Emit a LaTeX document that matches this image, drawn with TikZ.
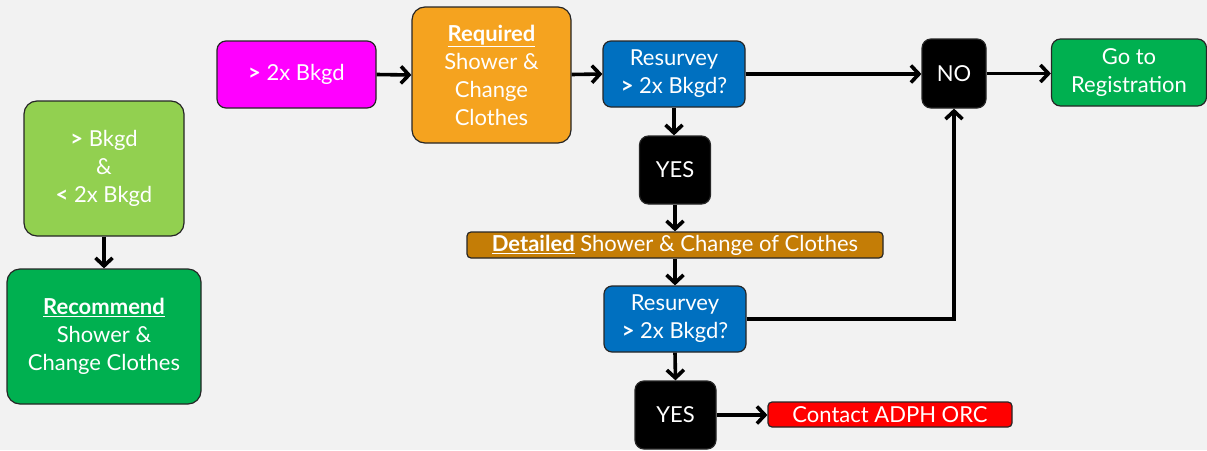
\documentclass[tikz,border=0pt]{standalone}
\usepackage{fontspec}
\setmainfont{Lato}
\usetikzlibrary{arrows.meta}
\definecolor{bg}{HTML}{F2F2F2}
\definecolor{lgreen}{HTML}{92D050}
\definecolor{dgreen}{HTML}{00B050}
\definecolor{magent}{HTML}{FF00FF}
\definecolor{orng}{HTML}{F5A31F}
\definecolor{blu}{HTML}{0070C0}
\definecolor{brwn}{HTML}{C47D06}
\definecolor{redc}{HTML}{FF0000}
\begin{document}
\begin{tikzpicture}[x=1pt,y=-1pt,
  box/.style={draw=black!85, line width=1.2pt, rounded corners=13pt, text=white, align=center,
    inner sep=2pt, font=\fontsize{22}{28}\selectfont},
  bar/.style={box, rounded corners=4pt},
  conn/.style={line width=3.6pt, -{Straight Barb[length=8pt,width=17pt,line width=3.6pt]}}
]
\useasboundingbox (0,0) rectangle (1207,450);
\fill[bg] (0,0) rectangle (1207,450);

\node[box, fill=lgreen, minimum width=160pt, minimum height=135pt] (lg) at (104,168.5)
  {\textbf{>} Bkgd\\ \&\\ \textbf{<} 2x Bkgd};
\node[box, fill=dgreen, minimum width=194pt, minimum height=135pt] (rec) at (104,336.5)
  {\textbf{\underline{Recommend}}\\ Shower \&\\ Change Clothes};
\node[box, fill=magent, minimum width=159pt, minimum height=67pt, rounded corners=9pt] (mag) at (296.5,74.5)
  {\textbf{>} 2x Bkgd};
\node[box, fill=orng, minimum width=159pt, minimum height=136pt] (req) at (491.5,75)
  {\textbf{\underline{Required}}\\ Shower \&\\ Change\\ Clothes};
\node[box, fill=blu, minimum width=142pt, minimum height=66pt, rounded corners=8pt] (rs1) at (674,74)
  {Resurvey\\ \textbf{>} 2x Bkgd?};
\node[box, fill=black, minimum width=71pt, minimum height=68pt, rounded corners=9pt] (yes1) at (675,170)
  {YES};
\node[bar, fill=brwn, minimum width=416pt, minimum height=26pt, inner sep=0pt] (det) at (675,245)
  {\textbf{\underline{Detailed}} Shower \& Change of Clothes};
\node[box, fill=blu, minimum width=142pt, minimum height=66pt, rounded corners=8pt] (rs2) at (675,319)
  {Resurvey\\ \textbf{>} 2x Bkgd?};
\node[box, fill=black, minimum width=81pt, minimum height=68pt, rounded corners=9pt] (yes2) at (675.5,415)
  {YES};
\node[bar, fill=redc, minimum width=244pt, minimum height=25pt, inner sep=0pt] (con) at (890,414.5)
  {Contact ADPH ORC};
\node[box, fill=black, minimum width=64pt, minimum height=69pt, rounded corners=9pt] (no) at (954,73.5)
  {NO};
\node[box, fill=dgreen, minimum width=155pt, minimum height=67pt, rounded corners=9pt] (go) at (1129,72.5)
  {Go to\\ Registration};

\draw[conn] (lg.south) -- (rec.north);
\draw[conn] (mag.east) -- (req.west);
\draw[conn] (req.east |- mag.east) -- (rs1.west);
\draw[conn] (rs1.east) -- (rs1.east -| no.west);
\draw[conn] (no.east) -- (no.east -| go.west);
\draw[conn] (rs1.south) -- (rs1.south |- yes1.north);
\draw[conn] (yes1.south) -- (yes1.south |- det.north);
\draw[conn] (det.south) -- (rs2.north);
\draw[conn] (rs2.south) -- (yes2.north);
\draw[conn] (yes2.east) -- (yes2.east -| con.west);
\draw[conn] (rs2.east) -| (no.south);
\end{tikzpicture}
\end{document}
